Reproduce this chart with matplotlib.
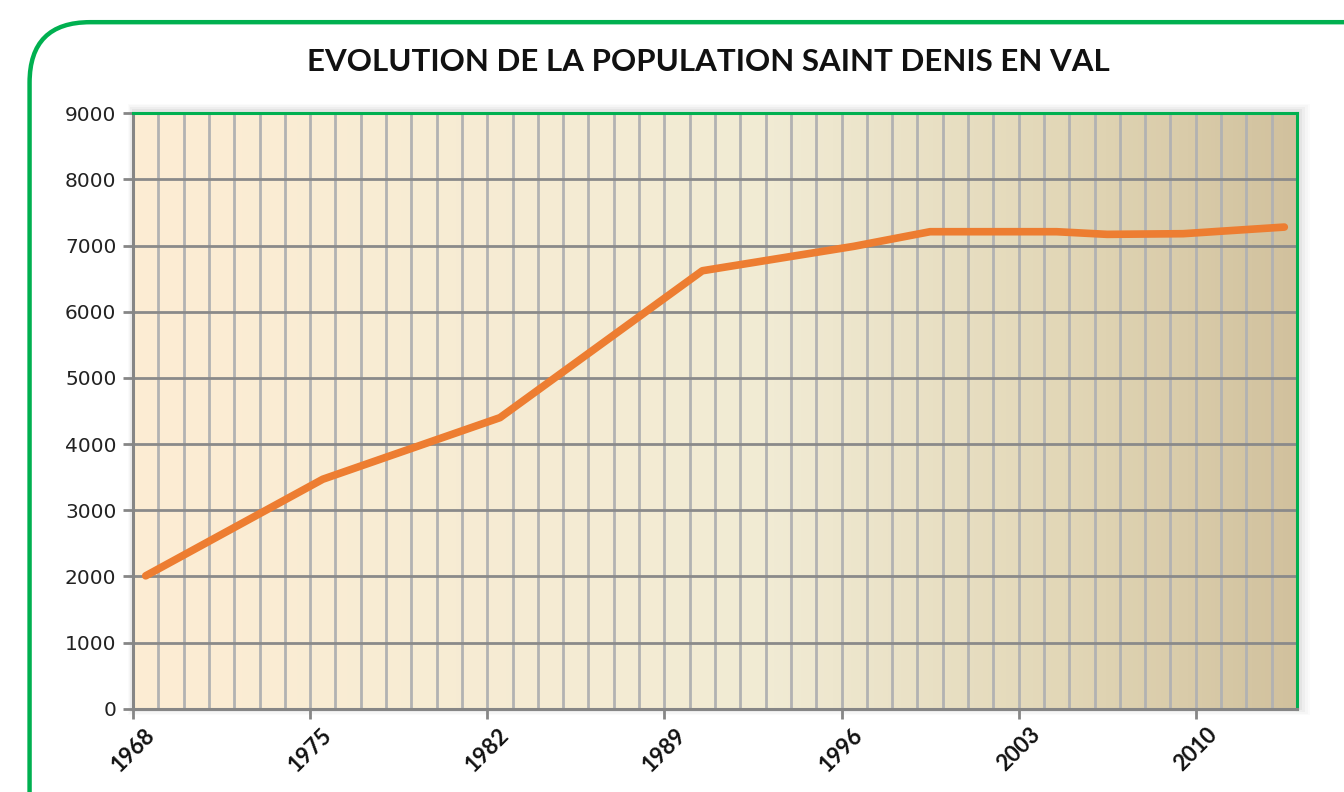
import matplotlib
matplotlib.use("Agg")
import matplotlib.pyplot as plt
import matplotlib.transforms as mtrans
import numpy as np
from matplotlib.colors import LinearSegmentedColormap
from matplotlib.patches import FancyBboxPatch, Rectangle

# données
annees = [1968, 1975, 1982, 1990, 1996, 1999, 2004, 2006, 2009, 2013]
population = [2010, 3470, 4400, 6620, 6990, 7210, 7210, 7170, 7180, 7280]

annee_debut = 1968
annee_fin = 2013
etiquettes_x = ['1968', '1975', '1982', '1989', '1996', '2003', '2010']
valeurs_y = [0, 1000, 2000, 3000, 4000, 5000, 6000, 7000, 8000, 9000]

titre = 'EVOLUTION DE LA POPULATION SAINT DENIS EN VAL'

vert = '#00B050'
orange = '#ED7D31'

fig = plt.figure(figsize=(13.44, 7.92), dpi=100)
fig.patch.set_facecolor('white')

# cadre arrondi vert autour du graphique
cadre = FancyBboxPatch((0.022, -0.1), 1.05, 1.072,
                       boxstyle='round,pad=0,rounding_size=0.045',
                       transform=fig.transFigure, fill=False,
                       edgecolor=vert, linewidth=3.2, clip_on=False,
                       mutation_aspect=1344 / 792)
fig.patches.append(cadre)

ax = fig.add_axes([0.099, 0.105, 0.866, 0.752])

# ombre legere autour de la zone de tracé
p = ax.get_position()
for i, a in enumerate([0.04, 0.03, 0.02, 0.015]):
    d = 0.002 * (i + 1)
    ombre = Rectangle((p.x0 - d * 0.5, p.y0 - d),
                      p.width + 1.5 * d + 0.002,
                      p.height + 2 * d + 0.004,
                      transform=fig.transFigure, facecolor='black',
                      alpha=a, edgecolor='none', zorder=-5)
    fig.patches.append(ombre)

# fond en dégradé
cmap = LinearSegmentedColormap.from_list(
    'fond', [(0.0, '#FDEDD3'), (0.55, '#F1EBD4'), (0.8, '#E2D7B7'), (1.0, '#D1C19D')])
grad = np.linspace(0, 1, 256).reshape(1, -1)
ax.imshow(grad, cmap=cmap, aspect='auto', extent=[0, 1, 0, 1],
          transform=ax.transAxes, zorder=0)

ax.set_xlim(annee_debut - 0.5, annee_fin + 0.5)
ax.set_ylim(0, 9000)

# grille
for k in range(annee_fin - annee_debut + 2):
    ax.axvline(annee_debut - 0.5 + k, color='#B2B2B2', linewidth=2, zorder=1)
for v in valeurs_y[1:-1]:
    ax.axhline(v, color='#8A8A8A', linewidth=2, zorder=1.5)

ax.plot(annees, population, color=orange, linewidth=5.5,
        solid_capstyle='round', solid_joinstyle='round', zorder=3)

ax.set_yticks(valeurs_y)
ax.set_yticklabels([str(v) for v in valeurs_y], fontsize=14.5,
                   family='DejaVu Sans', color='#222222')
pos_x = [annee_debut - 0.5 + 7 * i for i in range(len(etiquettes_x))]
ax.set_xticks(pos_x)
ax.set_xticklabels(etiquettes_x, rotation=45, ha='center', va='top',
                   fontsize=16, fontweight='bold',
                   family='Lato', color='#111111')
decalage = mtrans.ScaledTranslation(6 / 100, 0, fig.dpi_scale_trans)
for lab in ax.get_xticklabels():
    lab.set_transform(lab.get_transform() + decalage)
ax.tick_params(axis='both', length=7, width=2, color='#868686', direction='out')
ax.tick_params(axis='x', pad=4)
ax.tick_params(axis='y', pad=5)

for cote in ['left', 'bottom']:
    ax.spines[cote].set_color('#868686')
    ax.spines[cote].set_linewidth(2.2)
for cote in ['top', 'right']:
    ax.spines[cote].set_color(vert)
    ax.spines[cote].set_linewidth(2.2)

fig.text(0.527, 0.922, titre, ha='center', va='center', fontsize=22.5,
         fontweight='bold', family='Lato', color='#111111')

fig.savefig('out.png', dpi=100)
